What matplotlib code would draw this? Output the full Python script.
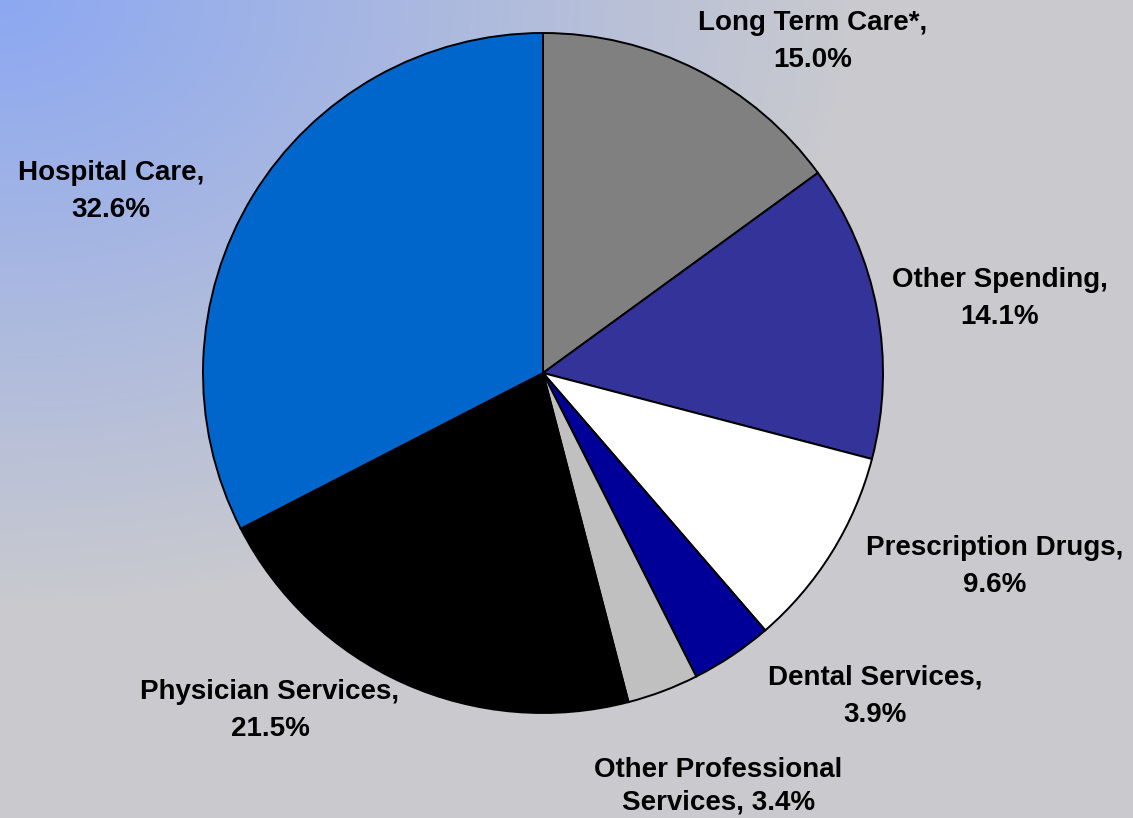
import numpy as np
import matplotlib
matplotlib.use("Agg")
from matplotlib import pyplot as plt
from matplotlib.colors import to_rgb

# slices, clockwise from 12 o'clock
categories = ["Long Term Care*", "Other Spending", "Prescription Drugs",
              "Dental Services", "Other Professional\nServices", "Physician Services",
              "Hospital Care"]
shares = [15.0, 14.1, 9.6, 3.9, 3.4, 21.5, 32.6]
colors = ["#808080", "#333399", "#FFFFFF", "#000099", "#C0C0C0", "#000000", "#0066CC"]

# label anchor points, in units of the pie radius
label_pos = [(0.794, 0.976), (1.344, 0.218), (1.329, -0.568), (0.976, -0.950),
             (0.515, -1.215), (-0.803, -0.994), (-1.271, 0.535)]

W, H = 1133, 818
fig = plt.figure(figsize=(W / 100, H / 100), dpi=100)

# background gradient: blue in the top-left corner fading to grey
bg = fig.add_axes([0, 0, 1, 1], zorder=0)
yy, xx = np.mgrid[0:H, 0:W]
t = np.clip(np.sqrt((xx / 860.0) ** 2 + (yy / 610.0) ** 2), 0, 1)
c0 = np.array(to_rgb("#8CA8F2"))
c1 = np.array(to_rgb("#CACACE"))
img = c0[None, None, :] * (1 - t[..., None]) + c1[None, None, :] * t[..., None]
bg.imshow(img, aspect="auto", interpolation="bilinear")
bg.axis("off")

ax = fig.add_axes([0, 0, 1, 1], zorder=1)
ax.patch.set_alpha(0)
ax.pie(shares, colors=colors, startangle=90, counterclock=False,
       wedgeprops=dict(edgecolor="black", linewidth=1.4))

cx, cy, r = 543, 373, 340
ax.set_xlim(-cx / r, (W - cx) / r)
ax.set_ylim((cy - H) / r, cy / r)
ax.set_aspect("auto")
ax.axis("off")

for name, val, (x, y) in zip(categories, shares, label_pos):
    if "\n" in name:
        txt = f"{name}, {val:.1f}%"
        ls = 1.3
    else:
        txt = f"{name},\n{val:.1f}%"
        ls = 1.55
    ax.text(x, y, txt, ha="center", va="center", fontsize=20,
            fontweight="bold", family="Liberation Sans", linespacing=ls)

fig.savefig("out.png", dpi=100)
